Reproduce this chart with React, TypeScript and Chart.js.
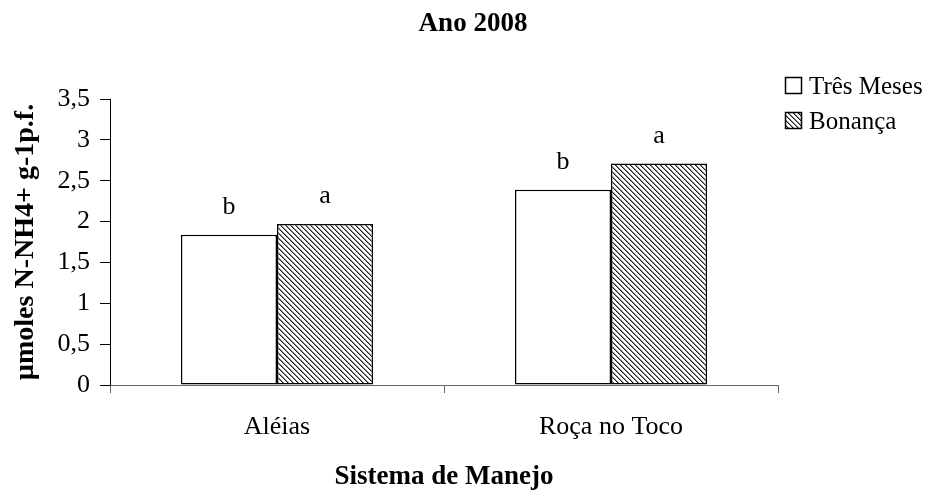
import React, { useEffect, useRef } from "react";
import { Chart, registerables } from "chart.js";

Chart.register(...registerables);

const categories = ["Aléias", "Roça no Toco"];
const seriesNames = ["Três Meses", "Bonança"];
const tresMeses = [1.84, 2.39];
const bonanca = [1.97, 2.71];
const letters = [
  ["b", "b"],
  ["a", "a"],
];
const yTicksMax = 3.5;
const yTicksStep = 0.5;
const chartTitle = "Ano 2008";
const xTitle = "Sistema de Manejo";
const yTitle = "µmoles N-NH4+ g-1p.f.";

const FONT = "'Liberation Serif', 'Times New Roman', serif";

function makeHatch(ctx: CanvasRenderingContext2D): CanvasPattern | string {
  const n = 5;
  const c = document.createElement("canvas");
  c.width = n;
  c.height = n;
  const cx = c.getContext("2d");
  if (!cx) return "#888";
  cx.fillStyle = "#ffffff";
  cx.fillRect(0, 0, n, n);
  for (let y = 0; y < n; y++) {
    cx.fillStyle = "#222222";
    cx.fillRect(y % n, y, 1, 1);
    cx.fillStyle = "#888888";
    cx.fillRect((y + 1) % n, y, 1, 1);
  }
  return ctx.createPattern(c, "repeat") || "#888";
}

export default function App() {
  const ref = useRef<HTMLCanvasElement | null>(null);

  useEffect(() => {
    const canvas = ref.current;
    if (!canvas) return;
    const ctx = canvas.getContext("2d");
    if (!ctx) return;
    const hatch = makeHatch(ctx);

    const overlay = {
      id: "overlay",
      afterDraw(chart: any) {
        const c = chart.ctx as CanvasRenderingContext2D;
        c.save();
        // title
        c.fillStyle = "#000";
        c.textAlign = "center";
        c.textBaseline = "alphabetic";
        c.font = `bold 27px ${FONT}`;
        c.fillText(chartTitle, 473, 31);

        // letters above bars
        c.font = `26px ${FONT}`;
        chart.data.datasets.forEach((ds: any, di: number) => {
          const meta = chart.getDatasetMeta(di);
          meta.data.forEach((bar: any, i: number) => {
            c.fillText(letters[di][i], bar.x, bar.y - 21);
          });
        });

        // legend
        const rows = [
          { y: 77, fill: "#ffffff" as any },
          { y: 112, fill: hatch as any },
        ];
        c.textAlign = "left";
        c.font = `25px ${FONT}`;
        rows.forEach((r, i) => {
          c.fillStyle = r.fill;
          c.fillRect(785, r.y, 17, 17);
          c.strokeStyle = "#000";
          c.lineWidth = 1.5;
          c.strokeRect(785.5, r.y + 0.5, 16, 16);
          c.fillStyle = "#000";
          c.fillText(seriesNames[i], 809, r.y + 17);
        });
        c.restore();
      },
    };

    const chart = new Chart(canvas, {
      type: "bar",
      data: {
        labels: categories,
        datasets: [
          {
            label: seriesNames[0],
            data: tresMeses,
            backgroundColor: "#ffffff",
            borderColor: "#000000",
            borderWidth: 1.5,
            borderSkipped: false,
          },
          {
            label: seriesNames[1],
            data: bonanca,
            backgroundColor: hatch as any,
            borderColor: "#000000",
            borderWidth: 1.5,
            borderSkipped: false,
          },
        ],
      },
      options: {
        responsive: false,
        animation: false,
        devicePixelRatio: 1,
        layout: { padding: { top: 99, right: 154, left: 0, bottom: 0 } },
        datasets: {
          bar: { categoryPercentage: 0.575, barPercentage: 1 },
        },
        plugins: {
          legend: { display: false },
          title: { display: false },
          tooltip: { enabled: false },
        },
        scales: {
          x: {
            afterFit: (s: any) => {
              s.height = 108;
            },
            grid: {
              display: true,
              drawOnChartArea: false,
              drawTicks: true,
              tickLength: 8,
              color: "#666666",
              offset: true,
            },
            border: { display: true, color: "#666666", width: 1 },
            ticks: {
              color: "#000",
              font: { family: FONT, size: 26 },
              padding: 19,
              maxRotation: 0,
            },
            title: {
              display: true,
              text: xTitle,
              color: "#000",
              font: { family: FONT, size: 27, weight: "bold" },
              padding: { top: 0, bottom: 0 },
            },
          },
          y: {
            min: 0,
            max: yTicksMax,
            afterFit: (s: any) => {
              s.width = 110;
            },
            grid: {
              display: true,
              drawOnChartArea: false,
              drawTicks: true,
              tickLength: 10,
              color: "#000000",
            },
            border: { display: true, color: "#000000", width: 1 },
            ticks: {
              stepSize: yTicksStep,
              color: "#000",
              font: { family: FONT, size: 26 },
              padding: 10,
              callback: (v: any) => String(v).replace(".", ","),
            },
            title: {
              display: true,
              text: yTitle,
              color: "#000",
              font: { family: FONT, size: 28, weight: "bold" },
              padding: { top: 9, bottom: 0 },
            },
          },
        },
      },
      plugins: [overlay],
    });

    return () => chart.destroy();
  }, []);

  return (
    <div style={{ position: "absolute", left: 0, top: 0, width: 932, height: 493, background: "#fff" }}>
      <canvas ref={ref} width={932} height={493} style={{ display: "block" }} />
    </div>
  );
}
